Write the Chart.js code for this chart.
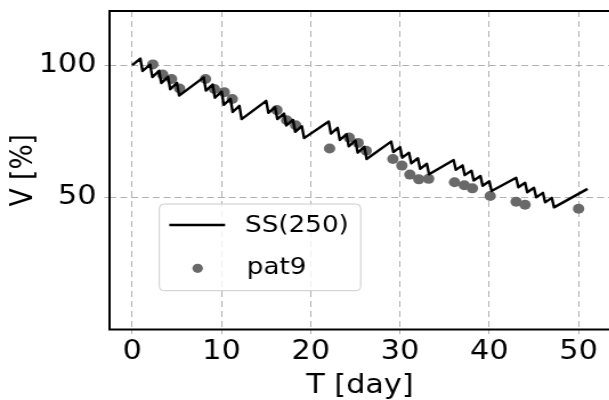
<!DOCTYPE html>
<html>
<head>
<meta charset="utf-8">
<script src="https://cdn.jsdelivr.net/npm/chart.js@4.4.1/dist/chart.umd.min.js"></script>
<style>
html, body { margin: 0; padding: 0; background: #fff; overflow: hidden; }
#wrap { width: 609px; height: 400px; overflow: hidden; }
/* the reference figure is stretched sideways, so draw narrow and scale the canvas */
#chart { display: block; transform: scale(1.1407, 1); transform-origin: 0 0; }
</style>
</head>
<body>
<div id="wrap"><canvas id="chart" width="540" height="400"></canvas></div>
<script>
// SS(250) model curve: day, volume %
const ssDays = [0, 0.9, 1.15, 2, 2.25, 3, 3.25, 4, 4.25, 5, 5.25,
  8, 8.25, 9, 9.25, 10, 10.25, 11, 11.25, 12, 12.25,
  15, 15.25, 16, 16.25, 17, 17.25, 18, 18.25, 19, 19.25,
  22, 22.25, 23, 23.25, 24, 24.25, 25, 25.25, 26, 26.25,
  29, 29.25, 30, 30.25, 31, 31.25, 32, 32.25, 33, 33.25,
  36, 36.25, 37, 37.25, 38, 38.25, 39, 39.25, 40, 40.25,
  43, 43.25, 44, 44.25, 45, 45.25, 46, 46.25, 47, 47.25, 51];
const ssValues = [100, 102.5, 97.8, 100.2, 95.5, 97.9, 93.2, 95.6, 90.9, 93.3, 88.5,
  95.4, 90.4, 92.7, 87.7, 90.0, 85.0, 87.3, 82.3, 84.6, 79.6,
  86.5, 82.0, 84.1, 79.6, 81.7, 77.2, 79.3, 74.8, 76.9, 72.4,
  78.7, 74.1, 76.3, 71.7, 73.9, 69.3, 71.5, 66.9, 69.1, 64.5,
  71.1, 67.1, 69.0, 65.0, 66.9, 62.9, 64.8, 60.8, 62.7, 58.7,
  64.1, 60.4, 62.1, 58.4, 60.1, 56.4, 58.1, 54.4, 56.1, 52.4,
  57.4, 53.8, 55.5, 51.9, 53.6, 50.0, 51.7, 48.1, 49.8, 46.2, 53.2];

// pat9 measurements
const patDays = [2.3, 3.4, 4.4, 5.3, 8.2, 9.2, 10.3, 11.2, 16.2, 17.3, 18.3,
  22.1, 24.3, 25.3, 26.2, 29.2, 30.2, 31.1, 32.1, 33.2, 36.1, 37.2, 38.1,
  40.1, 43.0, 44.0, 50.0];
const patValues = [100.3, 96.5, 94.8, 91.2, 94.8, 91.0, 89.8, 87.2, 83.0, 79.2, 77.3,
  68.5, 72.6, 70.6, 67.6, 64.5, 62.0, 58.6, 56.8, 57.0, 55.7, 54.6, 53.4,
  50.5, 48.3, 47.2, 45.7];

const xTicks = [0, 10, 20, 30, 40, 50];
const yTicks = [50, 100];

const fontFamily = "'DejaVu Sans', sans-serif";
const gridColor = "#b0b0b0";
const dotColor = "#696969";

// Frame round the plot area
const framePlugin = {
    id: "frame",
    afterDatasetsDraw(chart) {
        const { ctx, chartArea: a } = chart;
        ctx.save();
        ctx.strokeStyle = "#000";
        ctx.lineWidth = 2;
        ctx.strokeRect(a.left, a.top, a.right - a.left, a.bottom - a.top);
        ctx.restore();
    }
};

// Legend box inside the plot, like matplotlib's
const legendPlugin = {
    id: "innerLegend",
    afterDraw(chart) {
        const ctx = chart.ctx;
        const line = chart.data.datasets[0];
        const dots = chart.data.datasets[1];
        ctx.save();
        ctx.beginPath();
        ctx.roundRect(139.7, 204, 176.5, 86.7, 4);
        ctx.fillStyle = "rgba(255,255,255,0.8)";
        ctx.fill();
        ctx.strokeStyle = "#cccccc";
        ctx.lineWidth = 1;
        ctx.stroke();

        ctx.beginPath();
        ctx.moveTo(148.4, 225);
        ctx.lineTo(197.3, 225);
        ctx.strokeStyle = line.borderColor;
        ctx.lineWidth = line.borderWidth;
        ctx.stroke();

        ctx.beginPath();
        ctx.arc(173.3, 268.3, 4.6, 0, Math.PI * 2);
        ctx.fillStyle = dots.backgroundColor;
        ctx.fill();

        ctx.fillStyle = "#000";
        ctx.font = "23px " + fontFamily;
        ctx.textBaseline = "middle";
        ctx.textAlign = "left";
        ctx.fillText(line.label, 214.8, 226);
        ctx.fillText(dots.label, 216.3, 268.5);
        ctx.restore();
    }
};

const ssPoints = ssDays.map((d, i) => ({ x: d, y: ssValues[i] }));
const patPoints = patDays.map((d, i) => ({ x: d, y: patValues[i] }));

new Chart(document.getElementById("chart"), {
    type: "scatter",
    data: {
        datasets: [{
            label: "SS(250)",
            data: ssPoints,
            showLine: true,
            borderColor: "#000",
            borderWidth: 2.4,
            borderJoinStyle: "round",
            pointRadius: 0,
            tension: 0
        }, {
            label: "pat9",
            data: patPoints,
            backgroundColor: dotColor,
            borderColor: dotColor,
            borderWidth: 0,
            pointRadius: 5
        }]
    },
    options: {
        responsive: false,
        animation: false,
        layout: { padding: { left: 0, right: 3.6, top: 11, bottom: 0 } },
        plugins: {
            legend: { display: false },
            tooltip: { enabled: false }
        },
        scales: {
            x: {
                type: "linear",
                min: -2.55,
                max: 53.55,
                afterBuildTicks: s => { s.ticks = xTicks.map(v => ({ value: v })); },
                afterFit: s => {
                    s.height = 70.5;
                    s.paddingLeft = 0;
                    s.paddingRight = 0;
                },
                grid: { color: gridColor, lineWidth: 1, tickLength: 4.5, tickColor: gridColor },
                border: { display: false, dash: [6, 4] },
                ticks: {
                    color: "#000",
                    font: { family: fontFamily, size: 26.5 },
                    padding: 2,
                    maxRotation: 0,
                    autoSkip: false
                },
                title: {
                    display: true,
                    text: "T [day]",
                    color: "#000",
                    font: { family: fontFamily, size: 26.5, lineHeight: 1 },
                    padding: { top: 0, bottom: 1 }
                }
            },
            y: {
                type: "linear",
                min: 0,
                max: 120.5,
                afterBuildTicks: s => { s.ticks = yTicks.map(v => ({ value: v })); },
                afterFit: s => {
                    s.width = 96;
                    s.paddingTop = 0;
                    s.paddingBottom = 0;
                },
                grid: { color: gridColor, lineWidth: 1, tickLength: 4.5, tickColor: gridColor },
                border: { display: false, dash: [6, 3.5] },
                ticks: {
                    color: "#000",
                    font: { family: fontFamily, size: 26.5 },
                    padding: 7
                },
                title: {
                    display: true,
                    text: "V [%]",
                    color: "#000",
                    font: { family: fontFamily, size: 26.5, lineHeight: 1 },
                    padding: { top: 8, bottom: 0 }
                }
            }
        }
    },
    plugins: [framePlugin, legendPlugin]
});
</script>
</body>
</html>
